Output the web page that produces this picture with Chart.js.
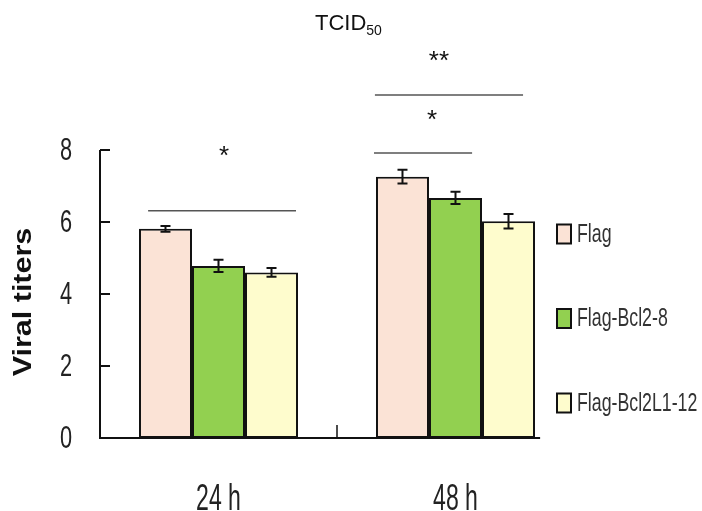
<!DOCTYPE html>
<html><head><meta charset="utf-8">
<script src="https://cdn.jsdelivr.net/npm/chart.js@4"></script>
<style>
html,body{margin:0;padding:0;background:#fff;}
#wrap{position:relative;width:702px;height:511px;}
#title{position:absolute;left:315px;top:10px;font:22px "Liberation Sans",Arial,sans-serif;color:#111;white-space:nowrap;}
#title sub{font-size:14px;vertical-align:-5px;}
</style></head><body>
<div id="wrap"><canvas id="c" width="702" height="511"></canvas><div id="title">TCID<sub>50</sub></div></div>
<script>
// ---- data ----
const categories = ['24 h', '48 h'];
const seriesNames = ['Flag', 'Flag-Bcl2-8', 'Flag-Bcl2L1-12'];
const flagValues = [5.81, 7.26];
const bcl2Values = [4.78, 6.67];
const bcl2l1Values = [4.60, 6.02];
const flagErrors = [0.08, 0.19];
const bcl2Errors = [0.17, 0.17];
const bcl2l1Errors = [0.12, 0.20];
const yTickValues = [0, 2, 4, 6, 8];
const yTickLabels = ['0', '2', '4', '6', '8'];
const yAxisTitle = 'Viral titers';
// significance brackets: x in category units, y in data units; label baseline position
const bracketX1 = [-0.297, 0.656, 0.660];
const bracketX2 = [0.327, 1.070, 1.285];
const bracketY = [6.31, 7.92, 9.53];
const starText = ['*', '*', '**'];
const starX = [0.023, 0.901, 0.930];
const starY = [7.60, 8.60, 10.26];

const colors = ['#FBE3D6', '#92D050', '#FEFCCD'];
const sans = "'Liberation Sans', Arial, sans-serif";

function narrowText(ctx, text, x, y, sx, sy) {
  ctx.save();
  ctx.translate(x, y);
  ctx.scale(sx, sy || 1);
  ctx.fillText(text, 0, 0);
  ctx.restore();
}

const decor = {
  id: 'decor',
  afterDatasetsDraw(chart) {
    const ctx = chart.ctx, ys = chart.scales.y;
    ctx.save();
    ctx.strokeStyle = '#111';
    ctx.lineWidth = 2;
    chart.data.datasets.forEach((ds, i) => {
      const meta = chart.getDatasetMeta(i);
      meta.data.forEach((el, j) => {
        const v = ds.data[j], e = ds.errors[j];
        const yt = ys.getPixelForValue(v + e), yb = ys.getPixelForValue(v - e);
        ctx.beginPath();
        ctx.moveTo(el.x, yt); ctx.lineTo(el.x, yb);
        ctx.moveTo(el.x - 5, yt); ctx.lineTo(el.x + 5, yt);
        ctx.moveTo(el.x - 5, yb); ctx.lineTo(el.x + 5, yb);
        ctx.stroke();
      });
    });
    ctx.restore();
  },
  afterDraw(chart) {
    const ctx = chart.ctx, xs = chart.scales.x, ys = chart.scales.y, ca = chart.chartArea;
    ctx.save();
    // axes
    ctx.strokeStyle = '#111';
    ctx.lineWidth = 2;
    const y0 = ys.getPixelForValue(0), y8 = ys.getPixelForValue(8);
    ctx.beginPath();
    ctx.moveTo(ca.left, y8); ctx.lineTo(ca.left, y0);
    ctx.lineTo(xs.getPixelForValue(1.357), y0);
    ctx.stroke();
    // inward y ticks + labels
    ctx.fillStyle = '#222';
    ctx.font = '32px ' + sans;
    ctx.textAlign = 'right';
    ctx.textBaseline = 'middle';
    yTickValues.forEach((v, k) => {
      const p = ys.getPixelForValue(v);
      ctx.beginPath(); ctx.moveTo(ca.left, p); ctx.lineTo(ca.left + 10, p); ctx.stroke();
      narrowText(ctx, yTickLabels[k], ca.left - 28, p + 1, 0.68);
    });
    // x labels
    ctx.font = '36px ' + sans;
    ctx.textAlign = 'center';
    ctx.textBaseline = 'alphabetic';
    chart.data.labels.forEach((lab, i) => {
      narrowText(ctx, lab, xs.getPixelForValue(i), y0 + 72, 0.64);
    });
    // y axis title
    ctx.save();
    ctx.translate(24, (ca.top + ca.bottom) / 2 + 8);
    ctx.rotate(-Math.PI / 2);
    ctx.font = 'bold 25px ' + sans;
    ctx.fillStyle = '#111';
    ctx.textAlign = 'center';
    ctx.textBaseline = 'middle';
    narrowText(ctx, yAxisTitle, 0, 0, 1.22, 1);
    ctx.restore();
    // category separator tick
    ctx.lineWidth = 1.5;
    const xm = xs.getPixelForValue(0.5);
    ctx.beginPath(); ctx.moveTo(xm, y0); ctx.lineTo(xm, y0 - 13); ctx.stroke();
    // brackets
    ctx.strokeStyle = '#555';
    ctx.lineWidth = 1.5;
    bracketY.forEach((by, k) => {
      const py = ys.getPixelForValue(by);
      ctx.beginPath();
      ctx.moveTo(xs.getPixelForValue(bracketX1[k]), py);
      ctx.lineTo(xs.getPixelForValue(bracketX2[k]), py);
      ctx.stroke();
    });
    ctx.fillStyle = '#111';
    ctx.font = '26px ' + sans;
    ctx.textAlign = 'center';
    ctx.textBaseline = 'alphabetic';
    starText.forEach((t, k) => {
      ctx.fillText(t, xs.getPixelForValue(starX[k]), ys.getPixelForValue(starY[k]));
    });
    // legend
    const lx = ca.right - 17;
    const ly0 = ca.top + 84;
    const step = 84.5;
    ctx.font = '25px ' + sans;
    ctx.textAlign = 'left';
    ctx.textBaseline = 'middle';
    chart.data.datasets.forEach((ds, i) => {
      const cy = ly0 + i * step;
      ctx.fillStyle = ds.backgroundColor;
      ctx.fillRect(lx, cy - 9.5, 14, 19);
      ctx.strokeStyle = '#111';
      ctx.lineWidth = 2;
      ctx.strokeRect(lx, cy - 9.5, 14, 19);
      ctx.fillStyle = '#333';
      narrowText(ctx, ds.label, lx + 20, cy + 1, 0.71);
    });
    ctx.restore();
  }
};

const mk = (i, vals, errs) => ({
  label: seriesNames[i], data: vals, errors: errs,
  backgroundColor: colors[i], borderColor: '#111', borderWidth: 2, borderSkipped: false
});

new Chart(document.getElementById('c'), {
  type: 'bar',
  data: {
    labels: categories,
    datasets: [mk(0, flagValues, flagErrors), mk(1, bcl2Values, bcl2Errors), mk(2, bcl2l1Values, bcl2l1Errors)]
  },
  options: {
    responsive: false,
    animation: false,
    layout: { padding: { top: 150, right: 128, left: 0, bottom: 0 } },
    datasets: { bar: { categoryPercentage: 0.671, barPercentage: 1 } },
    plugins: { legend: { display: false }, tooltip: { enabled: false } },
    scales: {
      x: {
        grid: { display: false }, border: { display: false },
        ticks: { display: false },
        afterFit(s) { s.height = 73; }
      },
      y: {
        min: 0, max: 8,
        afterBuildTicks(s) { s.ticks = yTickValues.map(v => ({ value: v })); },
        grid: { display: false }, border: { display: false },
        ticks: { display: false },
        afterFit(s) { s.width = 100; }
      }
    }
  },
  plugins: [decor]
});
</script>
</body></html>
